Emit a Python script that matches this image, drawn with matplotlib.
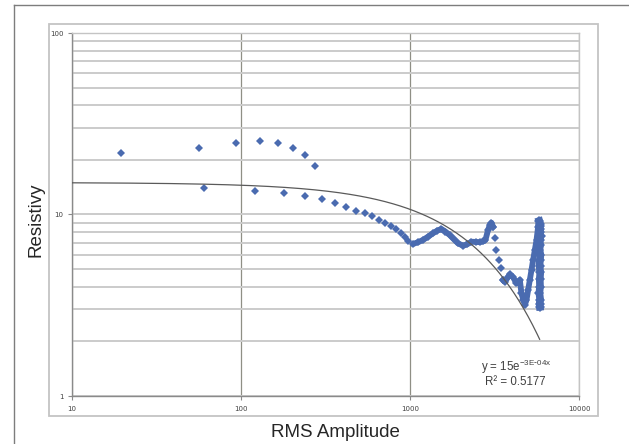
import numpy as np
import matplotlib
matplotlib.use("Agg")
import matplotlib.pyplot as plt
from matplotlib.lines import Line2D
from matplotlib.patches import Rectangle
from matplotlib.ticker import FixedLocator, FixedFormatter, NullFormatter, LogLocator

# ---- data ----
# sparse points (upper arc and lower descending branch)
sparse_x = [19.5, 56.4, 92.9, 129.6, 165.6, 203, 239.5, 275.6,
            60.6, 121, 180.6, 239.5, 300.6, 359, 417, 476, 538, 598, 654,
            714, 775, 829, 880, 929, 971]
sparse_y = [21.9, 23.3, 24.7, 25.3, 24.8, 23.3, 21.3, 18.6,
            14.05, 13.5, 13.1, 12.7, 12.2, 11.5, 11.0, 10.5, 10.15, 9.77, 9.33,
            9.01, 8.64, 8.32, 7.88, 7.55, 7.17]
# dense band of points (x > 1000)
dense_x = [1040, 1114, 1193, 1280, 1367, 1450, 1533, 1620, 1717, 1820, 1923,
           2059, 2180, 2309, 2450, 2585, 2700, 2795, 2896, 2960, 3033, 3100,
           3173, 3248, 3365, 3444, 3553, 3636, 3760, 3894, 4074, 4266, 4404,
           4464, 4567, 4680, 4778, 4890, 5000, 5117, 5236, 5351, 5478, 5607,
           5731, 5795]
dense_y = [6.88, 7.03, 7.24, 7.55, 7.88, 8.15, 8.32, 8.05, 7.71, 7.30, 6.94,
           6.73, 6.85, 7.08, 7.06, 7.04, 7.10, 7.24, 8.21, 8.70, 9.01, 8.57,
           7.42, 6.37, 5.61, 5.05, 4.36, 4.26, 4.45, 4.68, 4.51, 4.18, 4.26,
           4.36, 3.68, 3.40, 3.17, 3.38, 3.84, 4.36, 4.95, 5.61, 6.37, 7.24,
           8.57, 9.24]
# vertical column of points near x ~ 5800-5950
column_x = [5820, 5880, 5840, 5900, 5860, 5920, 5850, 5890, 5830, 5910,
            5870, 5840, 5900, 5860, 5880, 5830, 5890, 5850, 5870]
column_y = [9.2, 8.9, 8.6, 8.3, 8.0, 7.6, 7.2, 6.8, 6.4, 6.0,
            5.6, 5.2, 4.8, 4.4, 4.0, 3.7, 3.4, 3.2, 3.1]
# exponential trendline parameters (y = a * exp(-b x))
trend_a = 15.0
trend_b = 3.4e-4
trend_xmax = 5850

x_ticks = [10, 100, 1000, 10000]
x_tick_labels = ["10", "100", "1000", "10000"]
y_ticks = [1, 10, 100]
y_tick_labels = ["1", "10", "100"]

W, H = 629, 444
fig = plt.figure(figsize=(W / 100, H / 100), dpi=100)
fig.patch.set_facecolor("white")

def fx(px):
    return px / W

def fy(py):
    return 1 - py / H

# image frame lines
fig.add_artist(Line2D([fx(14), 1], [fy(5), fy(5)], color="#7d7d7d", lw=1.0))
fig.add_artist(Line2D([fx(14), fx(14)], [0, fy(5)], color="#7d7d7d", lw=1.0))
# chart area box
fig.add_artist(Rectangle((fx(49), fy(416)), fx(598) - fx(49), fy(24) - fy(416),
                         fill=False, edgecolor="#c4c4c4", lw=1.3))

ax = fig.add_axes([fx(72), fy(396), fx(579) - fx(72), fy(33) - fy(396)])
ax.set_xscale("log")
ax.set_yscale("log")
ax.set_xlim(10, 10000)
ax.set_ylim(1, 100)

ax.xaxis.set_major_locator(FixedLocator(x_ticks))
ax.xaxis.set_major_formatter(FixedFormatter(x_tick_labels))
ax.xaxis.set_minor_locator(FixedLocator([]))
ax.yaxis.set_major_locator(FixedLocator(y_ticks))
ax.yaxis.set_major_formatter(FixedFormatter(y_tick_labels))
ax.yaxis.set_minor_locator(LogLocator(base=10, subs=np.arange(2, 10)))
ax.yaxis.set_minor_formatter(NullFormatter())

ax.grid(True, axis="y", which="both", color="#cbcbcb", lw=1.4)
ax.grid(True, axis="x", which="major", color="#8f8f85", lw=0.9)
ax.set_axisbelow(True)

for s in ["left", "bottom"]:
    ax.spines[s].set_color("#8a8a8a")
    ax.spines[s].set_linewidth(1.0)
for s in ["top", "right"]:
    ax.spines[s].set_color("#c4c4c4")
    ax.spines[s].set_linewidth(1.0)

ax.tick_params(axis="both", which="major", labelsize=5, labelcolor="#404040",
               color="#8a8a8a", length=3, width=0.8)
ax.tick_params(axis="x", which="major", pad=4)
ax.tick_params(axis="y", which="major", pad=3)
ax.tick_params(axis="y", which="minor", length=0)

mcol = "#4a6bb0"
# trendline
tx = np.geomspace(10, trend_xmax, 400)
ax.plot(tx, trend_a * np.exp(-trend_b * tx), color="#5a5a5a", lw=0.9, zorder=4)

ax.plot(sparse_x, sparse_y, linestyle="none", marker="D", markersize=4.0,
        color=mcol, markeredgewidth=0, zorder=3)
# dense band: continuous parts drawn as thick path, the steep drop after the
# ~3000 peak shown as separate diamonds
i_gap0 = dense_x.index(3100)
i_gap1 = dense_x.index(3553)
ax.plot(dense_x[:i_gap0 + 1], dense_y[:i_gap0 + 1], linestyle="-", lw=4.2,
        color=mcol, marker="D", markersize=4.5, markeredgewidth=0,
        solid_joinstyle="round", solid_capstyle="round", zorder=3)
ax.plot(dense_x[i_gap0:i_gap1 + 1], dense_y[i_gap0:i_gap1 + 1], linestyle="none",
        color=mcol, marker="D", markersize=4.5, markeredgewidth=0, zorder=3)
ax.plot(dense_x[i_gap1:], dense_y[i_gap1:], linestyle="-", lw=4.2,
        color=mcol, marker="D", markersize=4.5, markeredgewidth=0,
        solid_joinstyle="round", solid_capstyle="round", zorder=3)
ax.plot(column_x, column_y, linestyle="-", lw=5.5, color=mcol, marker="D",
        markersize=5, markeredgewidth=0, zorder=3)

# axis titles
fig.text(fx(335), fy(432), "RMS Amplitude", ha="center", va="center",
         fontsize=13.5, family="Liberation Sans", color="#262626")
fig.text(fx(36), fy(220), "Resistivy", ha="center", va="center", rotation=90,
         fontsize=13.5, family="Liberation Sans", color="#262626")

# trendline equation
fig.text(fx(516), fy(367), "y = 15e$^{\\mathregular{-3E\\text{-}04x}}$",
         ha="center", va="center", fontsize=8.3, family="Liberation Sans",
         color="#404040")
fig.text(fx(515), fy(382), "R² = 0.5177", ha="center", va="center",
         fontsize=8.3, family="Liberation Sans", color="#404040")

fig.savefig("out.png", dpi=100)
